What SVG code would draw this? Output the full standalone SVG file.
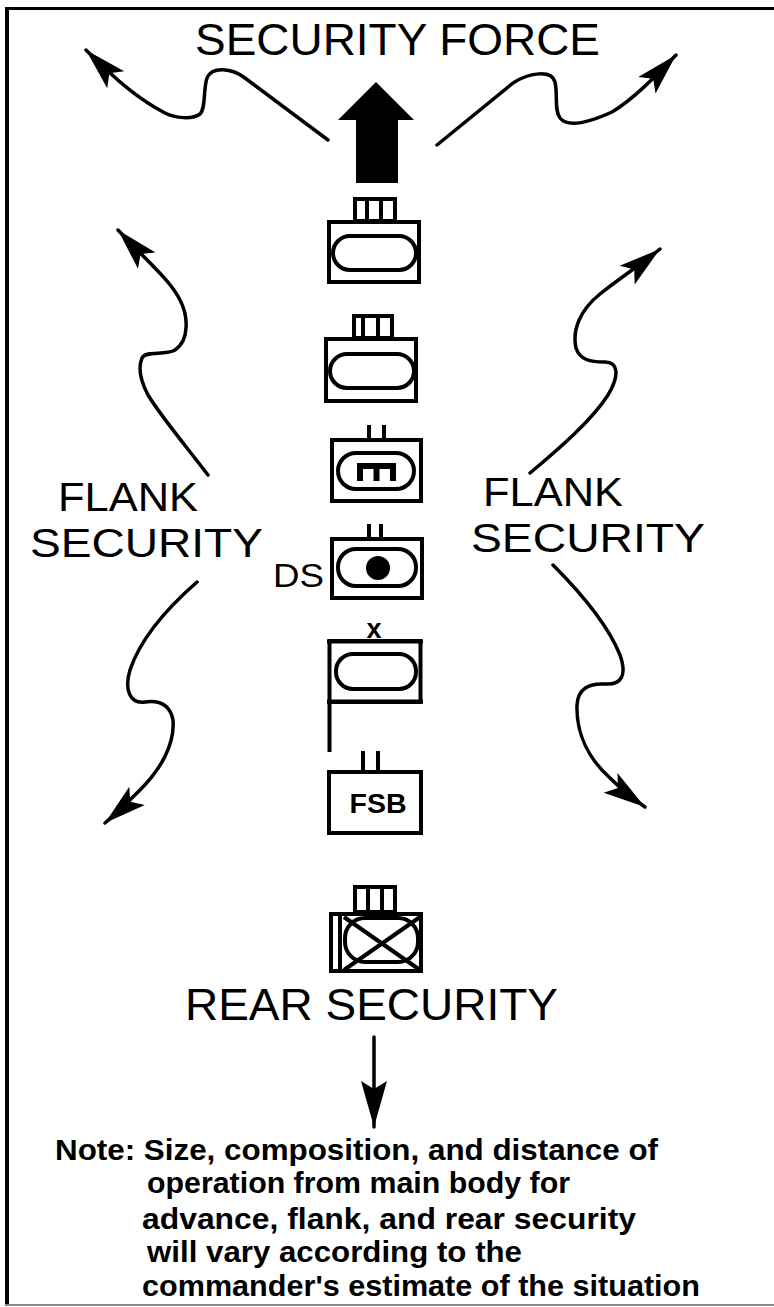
<svg xmlns="http://www.w3.org/2000/svg" width="774" height="1307" viewBox="0 0 774 1307">
<style>
.t{font-family:"Liberation Sans",Arial,sans-serif;fill:#000}
.big{font-size:45px}
.flank{font-size:41px}
.note{font-size:30px;font-weight:bold}
.box{fill:none;stroke:#000;stroke-width:4}
.oval{fill:none;stroke:#000;stroke-width:4}
.ln{stroke:#000;stroke-width:4;fill:none}
.wave{fill:none;stroke:#000;stroke-width:3.5;stroke-linecap:round;stroke-linejoin:round}
</style>
<defs>
<marker id="ah" markerUnits="userSpaceOnUse" viewBox="-44 -14 45 28" markerWidth="45" markerHeight="28" refX="0" refY="0" orient="auto">
<path d="M0,0 L-42,-12 L-33,0 L-42,12 Z" fill="#000"/>
</marker>
<marker id="ahr" markerUnits="userSpaceOnUse" viewBox="-48 -15 49 30" markerWidth="49" markerHeight="30" refX="0" refY="0" orient="auto">
<path d="M0,0 L-46,-13 L-38,0 L-46,13 Z" fill="#000"/>
</marker>
</defs>
<rect width="774" height="1307" fill="#fff"/>
<g id="frame">
<line x1="5" y1="8.5" x2="774" y2="8.5" stroke="#000" stroke-width="3"/>
<line x1="7" y1="7" x2="7" y2="1305" stroke="#000" stroke-width="4"/>
<line x1="5" y1="1305" x2="774" y2="1305" stroke="#888" stroke-width="2"/>
</g>
<g id="labels">
<text class="t big" x="195" y="55" textLength="405" lengthAdjust="spacingAndGlyphs">SECURITY FORCE</text>
<text class="t flank" x="58" y="511" textLength="140" lengthAdjust="spacingAndGlyphs">FLANK</text>
<text class="t flank" x="30" y="557" textLength="233" lengthAdjust="spacingAndGlyphs">SECURITY</text>
<text class="t flank" x="483" y="506" textLength="140" lengthAdjust="spacingAndGlyphs">FLANK</text>
<text class="t flank" x="471" y="552" textLength="234" lengthAdjust="spacingAndGlyphs">SECURITY</text>
<text class="t big" x="185" y="1020" textLength="373" lengthAdjust="spacingAndGlyphs">REAR SECURITY</text>
</g>
<g id="lead-arrow">
<polygon points="338,120 376,82 414,120 398,120 398,183 356,183 356,120" fill="#000"/>
</g>
<g id="unit1">
<rect class="box" x="355" y="199" width="40" height="22"/>
<line class="ln" x1="367" y1="199" x2="367" y2="221"/>
<line class="ln" x1="381" y1="199" x2="381" y2="221"/>
<rect class="box" x="329" y="222" width="90" height="60"/>
<rect class="oval" x="333" y="236" width="83" height="34" rx="17"/>
</g>
<g id="unit2">
<rect class="box" x="354" y="316" width="38" height="22"/>
<line class="ln" x1="363" y1="316" x2="363" y2="338"/>
<line class="ln" x1="378" y1="316" x2="378" y2="338"/>
<rect class="box" x="326" y="339" width="90" height="62"/>
<rect class="oval" x="330" y="354" width="84" height="34" rx="17"/>
</g>
<g id="unit3">
<line class="ln" x1="369" y1="425" x2="369" y2="439"/>
<line class="ln" x1="384" y1="425" x2="384" y2="439"/>
<rect class="box" x="332" y="440" width="89" height="61"/>
<rect class="oval" x="338" y="453" width="76" height="36" rx="18"/>
<path d="M357,466 H396 M360,464 V481 M376.5,464 V481 M393,464 V481" stroke="#000" stroke-width="6" fill="none"/>
</g>
<g id="unit4">
<line class="ln" x1="369" y1="524" x2="369" y2="538"/>
<line class="ln" x1="381" y1="524" x2="381" y2="538"/>
<rect class="box" x="332" y="539" width="90" height="59"/>
<rect class="oval" x="338" y="549" width="78" height="37" rx="18"/>
<circle cx="378" cy="568" r="12" fill="#000"/>
<text class="t" x="273" y="587" font-size="33" textLength="51" lengthAdjust="spacingAndGlyphs">DS</text>
</g>
<g id="unit5">
<text class="t" x="374" y="638" font-size="27" font-weight="bold" text-anchor="middle">x</text>
<rect class="box" x="329.5" y="641" width="91" height="61" stroke-width="5"/>
<line class="ln" x1="327" y1="641.5" x2="423" y2="641.5" stroke-width="7"/>
<line class="ln" x1="327" y1="701.5" x2="423" y2="701.5" stroke-width="7"/>
<rect class="oval" x="336" y="654" width="80" height="35" rx="17"/>
<line class="ln" x1="329.5" y1="700" x2="329.5" y2="752" stroke-width="5"/>
</g>
<g id="unit6">
<line class="ln" x1="363" y1="751" x2="363" y2="771"/>
<line class="ln" x1="378" y1="751" x2="378" y2="771"/>
<rect class="box" x="329" y="772" width="92" height="61"/>
<text class="t" x="378" y="813" font-size="28" font-weight="bold" text-anchor="middle" textLength="57" lengthAdjust="spacingAndGlyphs">FSB</text>
</g>
<g id="unit7">
<rect class="box" x="355" y="887" width="40" height="25"/>
<line class="ln" x1="368" y1="887" x2="368" y2="912"/>
<line class="ln" x1="382" y1="887" x2="382" y2="912"/>
<rect class="box" x="331" y="914" width="90" height="57"/>
<line class="ln" x1="340" y1="914" x2="340" y2="971" stroke-width="3"/>
<rect class="oval" x="345" y="918" width="73" height="44" rx="20" stroke-width="3.5"/>
<line class="ln" x1="344" y1="917" x2="420" y2="970" stroke-width="3.5"/>
<line class="ln" x1="420" y1="917" x2="344" y2="970" stroke-width="3.5"/>
</g>
<g id="connectors">
<path class="wave" marker-end="url(#ah)" d="M328,140 L245,78 C232,68 212,66 207,78 C203,90 206,108 200,114 C192,120 175,118 165,113 C140,100 118,82 86,50"/>
<path class="wave" marker-end="url(#ah)" d="M437,145 L513,83 C530,72 552,70 555,82 C558,95 554,110 560,118 C568,128 590,122 612,112 C632,100 652,80 676,55"/>
<path class="wave" marker-end="url(#ah)" d="M208,475 C185,445 160,415 148,395 C140,380 138,368 142,358 C146,350 165,356 175,350 C190,340 188,315 180,300 C170,280 148,262 118,230"/>
<path class="wave" marker-end="url(#ah)" d="M530,473 C560,448 592,420 608,395 C620,375 618,362 605,362 C590,362 580,360 576,348 C572,330 580,310 600,294 C620,278 640,265 660,249"/>
<path class="wave" marker-end="url(#ah)" d="M197,582 C165,610 140,640 130,670 C124,690 130,704 145,702 C160,700 170,705 173,720 C175,745 160,770 140,790 C128,802 118,812 105,823"/>
<path class="wave" marker-end="url(#ah)" d="M553,565 C580,592 608,625 620,655 C627,675 622,685 605,684 C590,683 578,688 577,705 C576,735 590,760 610,778 C622,790 635,800 645,807"/>
<line class="wave" x1="374" y1="1037" x2="374" y2="1127" marker-end="url(#ahr)"/>
</g>
<g id="note">
<text class="t note" x="55" y="1160" textLength="603" lengthAdjust="spacingAndGlyphs">Note: Size, composition, and distance of</text>
<text class="t note" x="147" y="1193" textLength="423" lengthAdjust="spacingAndGlyphs">operation from main body for</text>
<text class="t note" x="142" y="1229" textLength="494" lengthAdjust="spacingAndGlyphs">advance, flank, and rear security</text>
<text class="t note" x="147" y="1262" textLength="375" lengthAdjust="spacingAndGlyphs">will vary according to the</text>
<text class="t note" x="142" y="1296" textLength="558" lengthAdjust="spacingAndGlyphs">commander's estimate of the situation</text>
</g>
</svg>
